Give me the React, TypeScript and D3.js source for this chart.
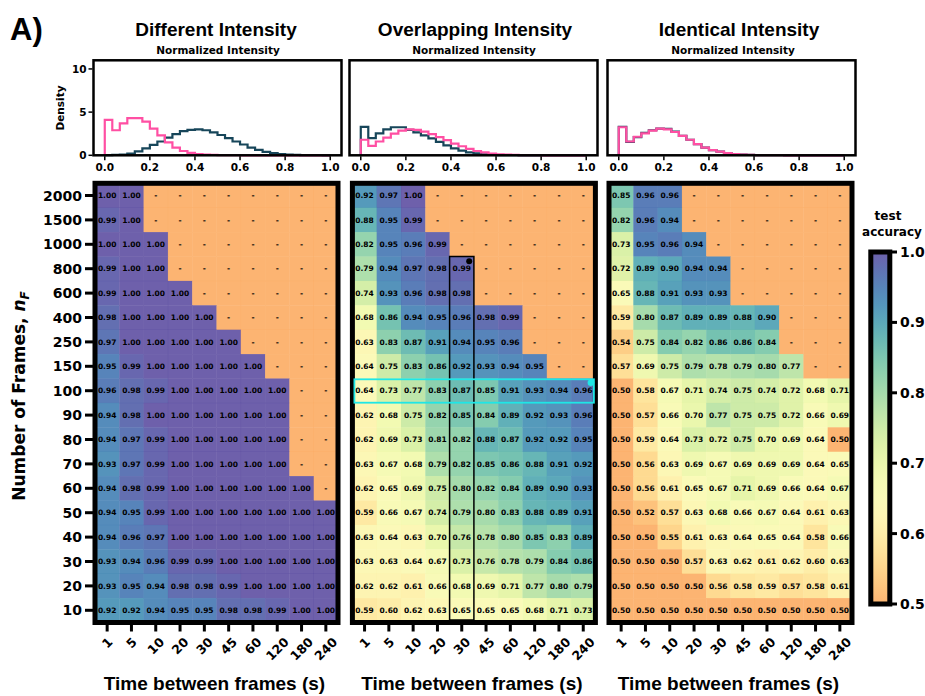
import React from "react";
import * as d3 from "d3";

const TIME_LABELS = ["1", "5", "10", "20", "30", "45", "60", "120", "180", "240"];
const FRAME_LABELS = ["2000", "1500", "1000", "800", "600", "400", "250", "150", "100", "90", "80", "70", "60", "50", "40", "30", "20", "10"];
const PANEL_TITLES = ["Different Intensity", "Overlapping Intensity", "Identical Intensity"];
const CBAR_TICKS = [0.5, 0.6, 0.7, 0.8, 0.9, 1.0];
const HIST_X_TICKS = [0, 0.2, 0.4, 0.6, 0.8, 1.0];
const HIST_Y_TICKS = [0, 5, 10];

const N = null;
const differentAcc: (number | null)[][] = [
  [1.00, 1.00, N, N, N, N, N, N, N, N],
  [0.99, 1.00, N, N, N, N, N, N, N, N],
  [1.00, 1.00, 1.00, N, N, N, N, N, N, N],
  [0.99, 1.00, 1.00, N, N, N, N, N, N, N],
  [0.99, 1.00, 1.00, 1.00, N, N, N, N, N, N],
  [0.98, 1.00, 1.00, 1.00, 1.00, N, N, N, N, N],
  [0.97, 1.00, 1.00, 1.00, 1.00, 1.00, N, N, N, N],
  [0.95, 0.99, 1.00, 1.00, 1.00, 1.00, 1.00, N, N, N],
  [0.96, 0.98, 0.99, 1.00, 1.00, 1.00, 1.00, 1.00, N, N],
  [0.94, 0.98, 1.00, 1.00, 1.00, 1.00, 1.00, 1.00, N, N],
  [0.94, 0.97, 0.99, 1.00, 1.00, 1.00, 1.00, 1.00, N, N],
  [0.93, 0.97, 0.99, 1.00, 1.00, 1.00, 1.00, 1.00, N, N],
  [0.94, 0.98, 0.99, 1.00, 1.00, 1.00, 1.00, 1.00, 1.00, N],
  [0.94, 0.95, 0.99, 1.00, 1.00, 1.00, 1.00, 1.00, 1.00, 1.00],
  [0.94, 0.96, 0.97, 1.00, 1.00, 1.00, 1.00, 1.00, 1.00, 1.00],
  [0.93, 0.94, 0.96, 0.99, 0.99, 1.00, 1.00, 1.00, 1.00, 1.00],
  [0.93, 0.95, 0.94, 0.98, 0.98, 0.99, 1.00, 1.00, 1.00, 1.00],
  [0.92, 0.92, 0.94, 0.95, 0.95, 0.98, 0.98, 0.99, 1.00, 1.00],
];
const overlappingAcc: (number | null)[][] = [
  [0.92, 0.97, 1.00, N, N, N, N, N, N, N],
  [0.88, 0.95, 0.99, N, N, N, N, N, N, N],
  [0.82, 0.95, 0.96, 0.99, N, N, N, N, N, N],
  [0.79, 0.94, 0.97, 0.98, 0.99, N, N, N, N, N],
  [0.74, 0.93, 0.96, 0.98, 0.98, N, N, N, N, N],
  [0.68, 0.86, 0.94, 0.95, 0.96, 0.98, 0.99, N, N, N],
  [0.63, 0.83, 0.87, 0.91, 0.94, 0.95, 0.96, N, N, N],
  [0.64, 0.75, 0.83, 0.86, 0.92, 0.93, 0.94, 0.95, N, N],
  [0.64, 0.73, 0.77, 0.83, 0.87, 0.85, 0.91, 0.93, 0.94, 0.96],
  [0.62, 0.68, 0.75, 0.82, 0.85, 0.84, 0.89, 0.92, 0.93, 0.96],
  [0.62, 0.69, 0.73, 0.81, 0.82, 0.88, 0.87, 0.92, 0.92, 0.95],
  [0.63, 0.67, 0.68, 0.79, 0.82, 0.85, 0.86, 0.88, 0.91, 0.92],
  [0.62, 0.65, 0.69, 0.75, 0.80, 0.82, 0.84, 0.89, 0.90, 0.93],
  [0.59, 0.66, 0.67, 0.74, 0.79, 0.80, 0.83, 0.88, 0.89, 0.91],
  [0.63, 0.64, 0.63, 0.70, 0.76, 0.78, 0.80, 0.85, 0.83, 0.89],
  [0.63, 0.63, 0.64, 0.67, 0.73, 0.76, 0.78, 0.79, 0.84, 0.86],
  [0.62, 0.62, 0.61, 0.66, 0.68, 0.69, 0.71, 0.77, 0.80, 0.79],
  [0.59, 0.60, 0.62, 0.63, 0.65, 0.65, 0.65, 0.68, 0.71, 0.73],
];
const identicalAcc: (number | null)[][] = [
  [0.85, 0.96, 0.96, N, N, N, N, N, N, N],
  [0.82, 0.96, 0.94, N, N, N, N, N, N, N],
  [0.73, 0.95, 0.96, 0.94, N, N, N, N, N, N],
  [0.72, 0.89, 0.90, 0.94, 0.94, N, N, N, N, N],
  [0.65, 0.88, 0.91, 0.93, 0.93, N, N, N, N, N],
  [0.59, 0.80, 0.87, 0.89, 0.89, 0.88, 0.90, N, N, N],
  [0.54, 0.75, 0.84, 0.82, 0.86, 0.86, 0.84, N, N, N],
  [0.57, 0.69, 0.75, 0.79, 0.78, 0.79, 0.80, 0.77, N, N],
  [0.50, 0.58, 0.67, 0.71, 0.74, 0.75, 0.74, 0.72, 0.68, 0.71],
  [0.50, 0.57, 0.66, 0.70, 0.77, 0.75, 0.75, 0.72, 0.66, 0.69],
  [0.50, 0.59, 0.64, 0.73, 0.72, 0.75, 0.70, 0.69, 0.64, 0.50],
  [0.50, 0.56, 0.63, 0.69, 0.67, 0.69, 0.69, 0.69, 0.64, 0.65],
  [0.50, 0.56, 0.61, 0.65, 0.67, 0.71, 0.69, 0.66, 0.64, 0.67],
  [0.50, 0.52, 0.57, 0.63, 0.68, 0.66, 0.67, 0.64, 0.61, 0.63],
  [0.50, 0.50, 0.55, 0.61, 0.63, 0.64, 0.65, 0.64, 0.58, 0.66],
  [0.50, 0.50, 0.50, 0.57, 0.63, 0.62, 0.61, 0.62, 0.60, 0.63],
  [0.50, 0.50, 0.50, 0.50, 0.56, 0.58, 0.59, 0.57, 0.58, 0.61],
  [0.50, 0.50, 0.50, 0.50, 0.50, 0.50, 0.50, 0.50, 0.50, 0.50],
];

// histogram densities, 30 bins on [0, 1]
const diffPink = [4.1, 2.9, 3.7, 4.3, 4.3, 3.9, 3.1, 2.3, 1.5, 0.9, 0.5, 0.27, 0.14, 0.07, 0.04, 0.02, 0.01, 0.01, 0, 0, 0, 0, 0, 0, 0, 0, 0, 0, 0, 0];
const diffTeal = [0.02, 0.04, 0.08, 0.2, 0.45, 0.8, 1.2, 1.6, 2.05, 2.45, 2.8, 2.95, 3.0, 2.9, 2.65, 2.35, 2.0, 1.6, 1.25, 0.9, 0.62, 0.4, 0.25, 0.15, 0.08, 0.05, 0.03, 0.02, 0.01, 0];
const overPink = [1.8, 1.1, 1.6, 2.05, 2.5, 2.85, 3.0, 2.95, 2.75, 2.45, 2.1, 1.75, 1.35, 1.05, 0.75, 0.5, 0.33, 0.2, 0.12, 0.07, 0.04, 0.02, 0.01, 0.01, 0, 0, 0, 0, 0, 0];
const overTeal = [3.3, 2.0, 2.55, 3.0, 3.25, 3.25, 2.95, 2.65, 2.3, 1.95, 1.55, 1.15, 0.8, 0.55, 0.35, 0.22, 0.12, 0.06, 0.03, 0.01, 0.01, 0, 0, 0, 0, 0, 0, 0, 0, 0];
const identPink = [3.25, 1.6, 2.15, 2.55, 2.85, 3.1, 3.0, 2.7, 2.25, 1.8, 1.3, 0.9, 0.6, 0.42, 0.25, 0.15, 0.08, 0.05, 0.03, 0.02, 0.01, 0.01, 0, 0, 0, 0, 0, 0, 0, 0];
const identTeal = [3.3, 1.55, 2.1, 2.6, 2.9, 3.1, 3.05, 2.75, 2.25, 1.8, 1.3, 0.9, 0.6, 0.42, 0.25, 0.15, 0.08, 0.05, 0.03, 0.02, 0.01, 0.01, 0, 0, 0, 0, 0, 0, 0, 0];

const MATRICES = [differentAcc, overlappingAcc, identicalAcc];
const HISTS = [[diffTeal, diffPink], [overTeal, overPink], [identTeal, identPink]];

const PINK = "#ff4fa3";
const TEAL = "#17465a";
const CYAN = "#1fe6e6";
const BOLD_DV = "'DejaVu Sans', sans-serif";
const ARIAL = "'Liberation Sans', Arial, sans-serif";

const HEAT_X = [95, 352.4, 609];
const HEAT_W = 243;
const HEAT_Y0 = 183.3;
const HEAT_H = 439.2;
const HIST_X = [93.5, 349.5, 607.5];
const HIST_W = 248;
const HIST_Y0 = 60.3;
const HIST_Y1 = 155.3;
const TITLE_X = [216, 475, 739];
const SUB_X = [218, 474, 733];

const colorT = d3.scaleLinear().domain([0.5, 1.0]).range([0.3, 1.0]).clamp(true);
const color = (v: number) => d3.interpolateSpectral(colorT(v));

function stepPath(vals: number[], xs: d3.ScaleLinear<number, number>, ys: d3.ScaleLinear<number, number>) {
  const n = vals.length;
  let p = `M${xs(0)},${ys(0)}`;
  vals.forEach((v, i) => {
    p += `V${ys(v)}H${xs((i + 1) / n)}`;
  });
  p += `V${ys(0)}`;
  return p;
}

function Panel({ idx }: { idx: number }) {
  const mat = MATRICES[idx];
  const x = d3.scaleBand<string>().domain(TIME_LABELS).range([HEAT_X[idx], HEAT_X[idx] + HEAT_W]);
  const y = d3.scaleBand<string>().domain(FRAME_LABELS).range([HEAT_Y0, HEAT_Y0 + HEAT_H]);
  const bw = x.bandwidth();
  const bh = y.bandwidth();
  const hx = d3.scaleLinear().domain([-0.05, 1.05]).range([HIST_X[idx], HIST_X[idx] + HIST_W]);
  const hy = d3.scaleLinear().domain([0, 11]).range([HIST_Y1, HIST_Y0]);
  const [teal, pink] = HISTS[idx];
  const bottom = HEAT_Y0 + HEAT_H;
  const fs = 12.5;
  return (
    <g>
      <text x={TITLE_X[idx]} y={36} textAnchor="middle" fontFamily={ARIAL} fontWeight="bold" fontSize={19}>{PANEL_TITLES[idx]}</text>
      <text x={SUB_X[idx]} y={53.5} textAnchor="middle" fontFamily={BOLD_DV} fontWeight="bold" fontSize={10.5}>Normalized Intensity</text>
      <path d={stepPath(teal, hx, hy)} fill="none" stroke={TEAL} strokeWidth={2.2} />
      <path d={stepPath(pink, hx, hy)} fill="none" stroke={PINK} strokeWidth={2.2} />
      <rect x={HIST_X[idx]} y={HIST_Y0} width={HIST_W} height={HIST_Y1 - HIST_Y0} fill="none" stroke="#000" strokeWidth={2.5} />
      {HIST_X_TICKS.map((t) => (
        <g key={t}>
          <line x1={hx(t)} x2={hx(t)} y1={HIST_Y1 + 1} y2={HIST_Y1 + 5} stroke="#000" strokeWidth={1.5} />
          <text x={hx(t)} y={171} textAnchor="middle" fontFamily={BOLD_DV} fontWeight="bold" fontSize={10.5}>{t.toFixed(1)}</text>
        </g>
      ))}
      {idx === 0 && HIST_Y_TICKS.map((t) => (
        <g key={t}>
          <line x1={HIST_X[idx] - 5} x2={HIST_X[idx] - 1} y1={hy(t)} y2={hy(t)} stroke="#000" strokeWidth={1.5} />
          <text x={HIST_X[idx] - 7} y={hy(t) + 3.8} textAnchor="end" fontFamily={BOLD_DV} fontWeight="bold" fontSize={10.5}>{t}</text>
        </g>
      ))}
      {idx === 0 && (
        <text transform={`translate(64,108) rotate(-90)`} textAnchor="middle" fontFamily={BOLD_DV} fontWeight="bold" fontSize={10.5}>Density</text>
      )}
      {mat.map((row, ri) =>
        row.map((v, ci) => (
          <rect key={`c${ri}-${ci}`} x={x(TIME_LABELS[ci])!} y={y(FRAME_LABELS[ri])!} width={bw + 0.3} height={bh + 0.3}
            fill={color(v === null ? 0.5 : v)} fillOpacity={0.9} />
        ))
      )}
      {mat.map((row, ri) =>
        row.map((v, ci) => (
          <text key={`t${ri}-${ci}`} x={x(TIME_LABELS[ci])! + bw / 2} y={y(FRAME_LABELS[ri])! + bh / 2 + 2.7}
            textAnchor="middle" fontFamily={BOLD_DV} fontWeight="bold" fontSize={7.5} fill="#000">
            {v === null ? "-" : v.toFixed(2)}
          </text>
        ))
      )}
      <rect x={HEAT_X[idx]} y={HEAT_Y0} width={HEAT_W} height={HEAT_H} fill="none" stroke="#000" strokeWidth={5} />
      {idx === 1 && (
        <g>
          <rect x={x("30")!} y={y("800")!} width={bw} height={bottom - y("800")! - 2.5} fill="none" stroke="#000" strokeWidth={1.5} />
          <circle cx={x("30")! + bw - 4.7} cy={y("800")! + 4.8} r={3} fill="#000" />
          <rect x={HEAT_X[idx] + 2} y={y("100")! + 0.8} width={HEAT_W - 3.5} height={bh - 1} fill="none" stroke={CYAN} strokeWidth={1.8} />
          <circle cx={HEAT_X[idx] + HEAT_W - 4.5} cy={y("100")! + 4.2} r={3.3} fill={CYAN} />
        </g>
      )}
      {TIME_LABELS.map((t) => {
        const cx = x(t)! + bw / 2;
        const w = t.length * 0.696 * fs;
        const h = 0.95 * fs;
        const side = (w + h) / Math.SQRT2;
        const cy = bottom + 13 + side / 2;
        return (
          <g key={t}>
            <line x1={cx} x2={cx} y1={bottom} y2={bottom + 9} stroke="#000" strokeWidth={3} />
            <text transform={`translate(${cx},${cy}) rotate(-45)`} textAnchor="middle" dy="0.36em" fontFamily={BOLD_DV} fontWeight="bold" fontSize={fs}>{t}</text>
          </g>
        );
      })}
      {idx === 0 && FRAME_LABELS.map((f) => {
        const cy = y(f)! + bh / 2;
        return (
          <g key={f}>
            <line x1={HEAT_X[0] - 10} x2={HEAT_X[0]} y1={cy} y2={cy} stroke="#000" strokeWidth={3} />
            <text x={HEAT_X[0] - 13} y={cy + 5} textAnchor="end" fontFamily={BOLD_DV} fontWeight="bold" fontSize={14}>{f}</text>
          </g>
        );
      })}
      <text x={HEAT_X[idx] + HEAT_W / 2 - 2} y={690} textAnchor="middle" fontFamily={ARIAL} fontWeight="bold" fontSize={19}>Time between frames (s)</text>
    </g>
  );
}

function Colorbar() {
  const cy = d3.scaleLinear().domain([0.5, 1.0]).range([604, 252]);
  const stops = d3.range(0, 21).map((i) => 0.5 + i * 0.025);
  return (
    <g>
      <defs>
        <linearGradient id="cbgrad" x1="0" y1="1" x2="0" y2="0">
          {stops.map((s) => (
            <stop key={s} offset={`${((s - 0.5) / 0.5) * 100}%`} stopColor={color(s)} stopOpacity={0.9} />
          ))}
        </linearGradient>
      </defs>
      <text x={888} y={220} textAnchor="middle" fontFamily={BOLD_DV} fontWeight="bold" fontSize={12}>test</text>
      <text x={892} y={236} textAnchor="middle" fontFamily={BOLD_DV} fontWeight="bold" fontSize={12}>accuracy</text>
      <rect x={870.8} y={cy(1.0)} width={19} height={cy(0.5) - cy(1.0)} fill="url(#cbgrad)" stroke="#000" strokeWidth={5} />
      {CBAR_TICKS.map((t) => (
        <g key={t}>
          <line x1={892} x2={897} y1={cy(t)} y2={cy(t)} stroke="#000" strokeWidth={3} />
          <text x={900} y={cy(t) + 5} fontFamily={BOLD_DV} fontWeight="bold" fontSize={14}>{t.toFixed(1)}</text>
        </g>
      ))}
    </g>
  );
}

export default function App() {
  return (
    <svg width={925} height={696} viewBox="0 0 925 696" style={{ display: "block", position: "absolute", left: 0, top: 0, background: "#fff" }}>
      <rect x={0} y={0} width={925} height={696} fill="#fff" />
      <text x={10} y={40} fontFamily={ARIAL} fontWeight="bold" fontSize={31}>A)</text>
      {[0, 1, 2].map((i) => <Panel key={i} idx={i} />)}
      <Colorbar />
      <text transform={`translate(25,396) rotate(-90)`} textAnchor="middle" fontFamily={BOLD_DV} fontWeight="bold" fontSize={17}>
        Number of Frames, <tspan fontStyle="italic">n</tspan><tspan fontStyle="italic" fontSize={12} dy={4}>F</tspan>
      </text>
    </svg>
  );
}
